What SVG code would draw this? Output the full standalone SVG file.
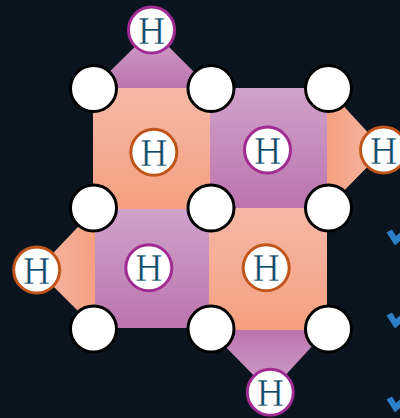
<svg xmlns="http://www.w3.org/2000/svg" width="400" height="418" viewBox="0 0 400 418">
<style>
.h{fill:#fff;stroke-width:3}
.p{stroke:#a02b93}
.o{stroke:#c0551b}
.c{fill:#fff;stroke:#000;stroke-width:3}
.t{font-family:"DejaVu Serif Condensed","DejaVu Serif",serif;font-size:36px;fill:#0f4a68;stroke:#fff;stroke-width:0.45;text-anchor:middle}
.m{fill:#2e7fc9}
</style>
<defs>
<linearGradient id="gp" x1="0" y1="0" x2="0" y2="1"><stop offset="0" stop-color="#d0a2ca"/><stop offset="1" stop-color="#bb74ae"/></linearGradient>
<linearGradient id="gpu" x1="0" y1="1" x2="0" y2="0"><stop offset="0" stop-color="#d0a2ca"/><stop offset="1" stop-color="#bb74ae"/></linearGradient>
<linearGradient id="go" x1="0" y1="0" x2="0" y2="1"><stop offset="0" stop-color="#f6b8a6"/><stop offset="1" stop-color="#f5a080"/></linearGradient>
<linearGradient id="gor" x1="0" y1="0" x2="1" y2="0"><stop offset="0" stop-color="#f5a080"/><stop offset="1" stop-color="#f6b8a6"/></linearGradient>
<linearGradient id="gol" x1="0" y1="0" x2="1" y2="0"><stop offset="0" stop-color="#f6b8a6"/><stop offset="1" stop-color="#f5a080"/></linearGradient>
</defs>
<rect width="400" height="418" fill="#0a141e"/>
<path class="m" d="M386.5 232.500L392 229.500L396 236L400 232.500V241L395 245.500Z"/>
<path class="m" d="M386.500 315.500L392 312.500L396 319L400 315.500V324L395 328.500Z"/>
<path class="m" d="M386.500 399.500L392 396.500L396 403L400 399.500V408L395 412.500Z"/>
<g id="connectors"/>
<g id="faces">
<rect x="93" y="88" width="117" height="121" fill="url(#go)"/>
<rect x="210" y="88" width="117" height="120" fill="url(#gp)"/>
<rect x="95" y="209" width="114" height="119" fill="url(#gp)"/>
<rect x="209" y="208" width="118" height="122" fill="url(#go)"/>
<path d="M93 88L152 30L210 88Z" fill="url(#gp)"/>
<path d="M327 88L384 150L327 208Z" fill="url(#gor)"/>
<path d="M95 209L37 270L95 328Z" fill="url(#gol)"/>
<path d="M209 330L270 392L327 330Z" fill="url(#gpu)"/>
</g>
<g id="c1"><circle class="c" cx="93.500" cy="88.500" r="23"/></g>
<g id="c2"><circle class="c" cx="211" cy="88.500" r="23"/></g>
<g id="c3"><circle class="c" cx="328.500" cy="88.500" r="23"/></g>
<g id="c4"><circle class="c" cx="93.500" cy="208" r="23"/></g>
<g id="c5"><circle class="c" cx="211" cy="208" r="23"/></g>
<g id="c6"><circle class="c" cx="328.500" cy="208" r="23"/></g>
<g id="c7"><circle class="c" cx="93.500" cy="329" r="23"/></g>
<g id="c8"><circle class="c" cx="211" cy="329" r="23"/></g>
<g id="c9"><circle class="c" cx="328.500" cy="329" r="23"/></g>
<g id="h1"><circle class="h p" cx="151.500" cy="30" r="23"/><text class="t" x="151.500" y="43.500">H</text></g>
<g id="h2"><circle class="h o" cx="153.800" cy="152.300" r="23"/><text class="t" x="153.800" y="165.500">H</text></g>
<g id="h3"><circle class="h p" cx="267.500" cy="150" r="23"/><text class="t" x="267.500" y="163.500">H</text></g>
<g id="h4"><circle class="h o" cx="383.500" cy="150" r="23"/><text class="t" x="383.500" y="163.500">H</text></g>
<g id="h5"><circle class="h o" cx="36.700" cy="270" r="23"/><text class="t" x="36.700" y="283.500">H</text></g>
<g id="h6"><circle class="h p" cx="148.800" cy="267.800" r="23"/><text class="t" x="148.800" y="281">H</text></g>
<g id="h7"><circle class="h o" cx="266.200" cy="267.800" r="23"/><text class="t" x="266.200" y="281">H</text></g>
<g id="h8"><circle class="h p" cx="270.300" cy="392.200" r="23"/><text class="t" x="270.300" y="405.500">H</text></g>
</svg>
